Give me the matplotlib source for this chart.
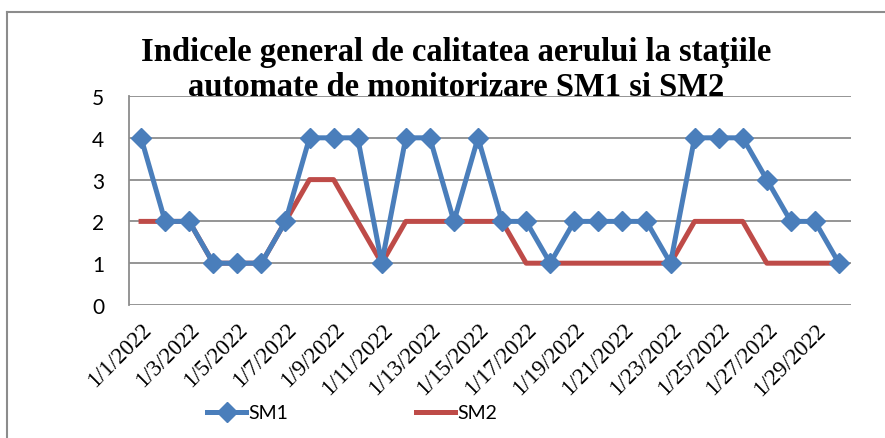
import matplotlib.pyplot as plt
from matplotlib.lines import Line2D

dates = [f"1/{d}/2022" for d in range(1, 31)]
sm1 = [4, 2, 2, 1, 1, 1, 2, 4, 4, 4, 1, 4, 4, 2, 4,
       2, 2, 1, 2, 2, 2, 2, 1, 4, 4, 4, 3, 2, 2, 1]
sm2 = [2, 2, 2, 1, 1, 1, 2, 3, 3, 2, 1, 2, 2, 2, 2,
       2, 1, 1, 1, 1, 1, 1, 1, 2, 2, 2, 1, 1, 1, 1]

BLUE = "#4A7EBB"
RED = "#BE4B48"
GRID = "#8c8c8c"

fig = plt.figure(figsize=(8.85, 4.39), dpi=100)
ax = fig.add_axes([0.1458, 0.303, 0.9616 - 0.1458, 0.779 - 0.303])

x = list(range(len(dates)))
ax.plot(x, sm1, color=BLUE, lw=3.6, marker="D", markersize=10,
        label="SM1", solid_joinstyle="miter", zorder=3)
ax.plot(x, sm2, color=RED, lw=3.6, label="SM2", zorder=2)

ax.set_xlim(-0.5, len(dates) - 0.5)
ax.set_ylim(0, 5)
ax.set_yticks(range(6))
ax.yaxis.grid(True, color=GRID, lw=1.3)
ax.set_axisbelow(True)
for side in ("top", "right", "bottom"):
    ax.spines[side].set_visible(False)
ax.spines["left"].set_color(GRID)
ax.spines["left"].set_linewidth(1.3)
ax.tick_params(axis="y", length=0, pad=18, labelsize=15)
for lab in ax.get_yticklabels():
    lab.set_fontfamily(["Lato", "DejaVu Sans"])

ax.set_xticks(x[::2])
ax.set_xticklabels(dates[::2], rotation=45, ha="right", rotation_mode="anchor",
                   family="Liberation Serif", fontsize=16.5)
ax.tick_params(axis="x", length=0, pad=10)

fig.text(0.515, 0.84, "Indicele general de calitatea aerului la staţiile\n"
         "automate de monitorizare SM1 si SM2",
         ha="center", va="center", family="Liberation Serif",
         fontweight="bold", fontsize=23.5, linespacing=1.15)

# outer chart frame
fig.add_artist(Line2D([0.008, 0.008], [0, 0.970], color=GRID, lw=1.5,
                      transform=fig.transFigure))
fig.add_artist(Line2D([0.008, 1.0], [0.970, 0.970], color=GRID, lw=1.5,
                      transform=fig.transFigure))

fig.legend(loc="center", bbox_to_anchor=(352 / 885, 1 - 414 / 439), ncol=2,
           frameon=False, handlelength=2.0, columnspacing=6.6, handletextpad=0.1,
           prop={"family": "Lato", "size": 14})

fig.savefig("out.png", dpi=100)
